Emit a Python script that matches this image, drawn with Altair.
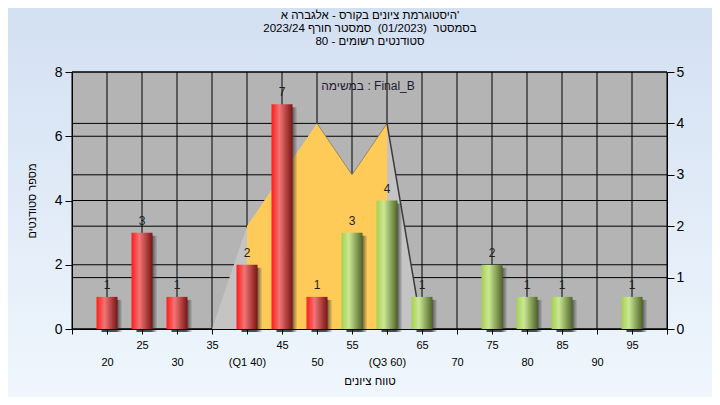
import altair as alt
import pandas as pd

# ---- data ----
bins = [20, 25, 30, 35, 40, 45, 50, 55, 60, 65, 70, 75, 80, 85, 90, 95]
counts = [1, 3, 1, 0, 2, 7, 1, 3, 4, 1, 0, 2, 1, 1, 0, 1]
pass_from = 55

curve_x = [35, 40, 45, 50, 55, 60, 65]
curve_y = [0, 2, 3, 4, 3, 4, 0]
q1, q3 = 40, 60

x_ticks = list(range(15, 101, 5))
left_ticks = [0, 2, 4, 6, 8]
right_ticks = [0, 1, 2, 3, 4, 5]

title_lines = [
    "היסטוגרמת ציונים בקורס - אלגברה א'",
    "בסמסטר \u00a0(01/2023) \u00a0סמסטר חורף 2023/24",
    "סטודנטים רשומים - 80",
]
note_text = "במשימה : Final_B"
x_title = "טווח ציונים"
y_title = "מספר סטודנטים"

FONT = "Liberation Sans"
W, H = 595, 257

bars = pd.DataFrame({"v": bins, "n": counts})
bars = bars[bars.n > 0].copy()
bars["grp"] = ["pass" if v >= pass_from else "fail" for v in bars.v]
curve = pd.DataFrame({"v": curve_x, "c": curve_y})
xt = pd.DataFrame({"v": x_ticks})
lt = pd.DataFrame({"g": left_ticks})
rt = pd.DataFrame({"g": right_ticks})
one = pd.DataFrame({"a": [0]})

x_axis = alt.Axis(
    values=x_ticks, grid=False, tickSize=5, tickColor="black", domainColor="black",
    labelFontSize=11, labelColor="black", labelFont=FONT, labelOverlap=False, labelFlush=False,
    labelExpr=("datum.value == 40 ? '(Q1 40)' : datum.value == 60 ? '(Q3 60)' : "
               "(datum.value < 20 || datum.value > 95) ? '' : datum.label"),
    labelPadding={"condition": {"test": "datum.value % 10 == 0", "value": 22}, "value": 5},
    title=x_title, titleFont=FONT, titleFontSize=11.5, titleFontWeight="normal",
    titleColor="black", titlePadding=8, zindex=1,
)
x_scale = alt.Scale(domain=[15, 100], nice=False, zero=False, padding=0)


def X():
    return alt.X("v:Q", scale=x_scale, axis=x_axis)


def YL(field, axis=None):
    return alt.Y(field, type="quantitative", scale=alt.Scale(domain=[0, 8], nice=False, padding=0), axis=axis)


def YR(field, axis=None):
    return alt.Y(field, type="quantitative", scale=alt.Scale(domain=[0, 5], nice=False, padding=0), axis=axis)


left_axis = alt.Axis(
    orient="left", values=left_ticks, grid=False, tickSize=7, tickColor="black",
    domainColor="black", labelFontSize=14, labelFont=FONT, labelColor="black", labelPadding=3,
    title=y_title, titleFont=FONT, titleFontSize=11, titleFontWeight="normal",
    titleColor="black", titlePadding=17, zindex=1,
)
right_axis = alt.Axis(
    orient="right", values=right_ticks, grid=False, tickSize=7, tickColor="black",
    domainColor="black", labelFontSize=14, labelFont=FONT, labelColor="black", labelPadding=2,
    title=None, zindex=1,
)


def hgrad(stops):
    return {"gradient": "linear", "x1": 0, "x2": 1, "y1": 0, "y2": 0,
            "stops": [{"offset": o, "color": c} for o, c in stops]}


bg = alt.Chart(one).mark_rect(
    color={"gradient": "linear", "x1": 0, "x2": 0, "y1": 0, "y2": 1,
           "stops": [{"offset": 0, "color": "#D3E0F2"}, {"offset": 1, "color": "#EFF6FD"}]}
).encode(x=alt.value(-64), x2=alt.value(W + 45), y=alt.value(-64), y2=alt.value(H + 68))

plot_bg = alt.Chart(one).mark_rect(color="#B4B4B4").encode(
    x=alt.value(0), x2=alt.value(W), y=alt.value(0), y2=alt.value(H))

vgrid = alt.Chart(xt).mark_rule(color="black", strokeWidth=1).encode(x=X())
hgrid_l = alt.Chart(lt).mark_rule(color="black", strokeWidth=1).encode(y=YL("g"))
hgrid_r = alt.Chart(rt).mark_rule(color="black", strokeWidth=1).encode(y=YR("g"))

area_gray = alt.Chart(curve).mark_area(color="#C4C4C4").encode(x=X(), y=YR("c", right_axis))
area_yel = alt.Chart(curve).transform_filter(
    f"datum.v >= {q1} && datum.v <= {q3}").mark_area(color="#FFCB58").encode(x=X(), y=YR("c"))
top_line = alt.Chart(curve).transform_filter("datum.v >= 50 && datum.v <= 60").mark_line(
    color="#8A7A50", strokeWidth=1, opacity=0.8).encode(x=X(), y=YR("c"))
tail_line = alt.Chart(curve).transform_filter("datum.v >= 60").mark_line(
    color="#3C3C3C", strokeWidth=1.5).encode(x=X(), y=YR("c"))

shadow = alt.Chart(bars).mark_bar(
    size=21, xOffset=5, yOffset=3,
    color=hgrad([(0, "rgba(50,50,50,0.9)"), (0.7, "rgba(50,50,50,0.85)"), (1, "rgba(50,50,50,0)")]),
).encode(x=X(), y=YL("n"))

red = alt.Chart(bars).transform_filter("datum.grp == 'fail'").mark_bar(
    size=21, color=hgrad([(0, "#FF1C1C"), (0.38, "#F07474"), (1, "#7C1414")]),
).encode(x=X(), y=YL("n", left_axis))
green = alt.Chart(bars).transform_filter("datum.grp == 'pass'").mark_bar(
    size=21, color=hgrad([(0, "#A6CF4E"), (0.35, "#CBE895"), (1, "#4F6627")]),
).encode(x=X(), y=YL("n"))

labels = alt.Chart(bars).mark_text(
    dy=-12, fontSize=12, font=FONT, color="#1E1E1E", baseline="middle"
).encode(x=X(), y=YL("n"), text="n:Q")

note = alt.Chart(one).mark_text(
    fontSize=12, font=FONT, color="#1E1A30", baseline="middle", align="center"
).encode(x=alt.value(296), y=alt.value(14), text=alt.value(note_text))

title = alt.Chart(one).mark_text(
    fontSize=11.5, font=FONT, color="black", baseline="top", align="center", lineHeight=13,
    text=title_lines,
).encode(x=alt.value(298), y=alt.value(-62))

chart = alt.layer(
    bg, plot_bg, vgrid, hgrid_l, hgrid_r, area_gray, area_yel, top_line, tail_line,
    shadow, red, green, labels, note, title,
).resolve_scale(y="independent").properties(
    width=W, height=H,
    autosize=alt.AutoSizeParams(type="none"),
    padding={"left": 64, "top": 64, "right": 45, "bottom": 68},
    background="#E2ECF8",
).configure_view(stroke=None)

chart.save("out.html", embed_options={"renderer": "svg", "actions": False})
